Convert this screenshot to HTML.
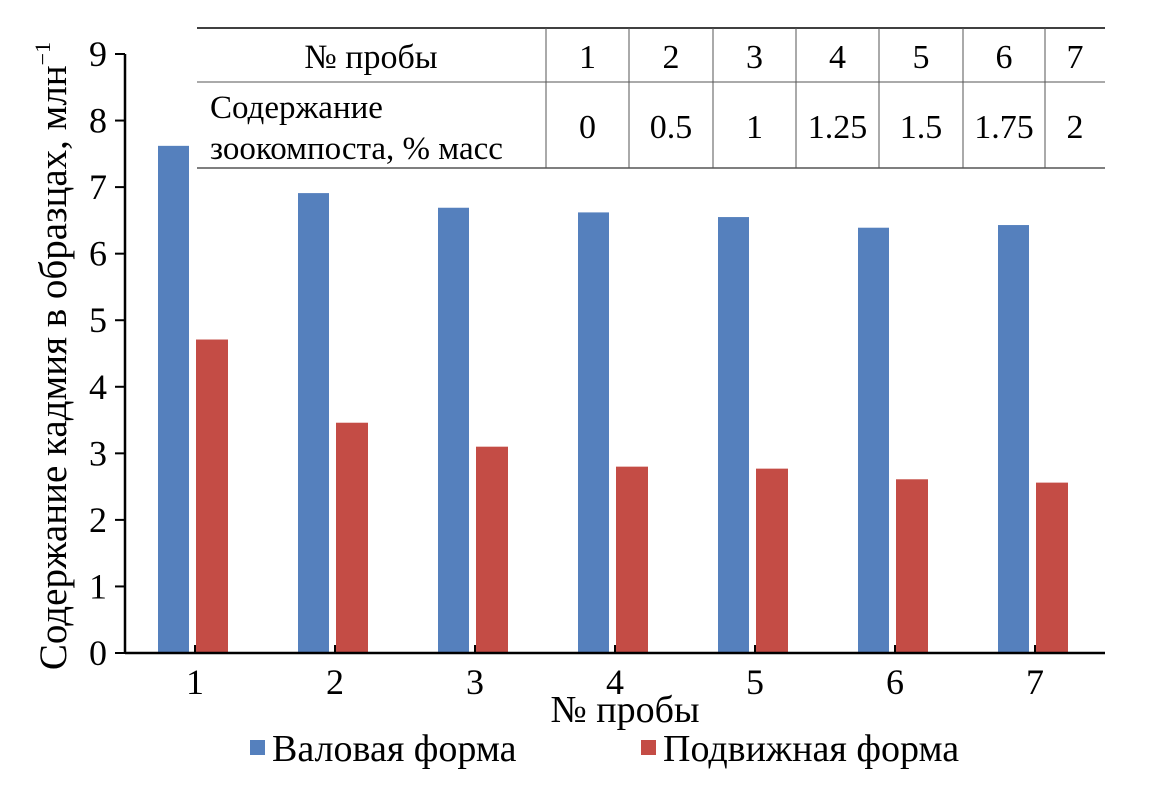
<!DOCTYPE html>
<html><head><meta charset="utf-8"><style>
body{margin:0;background:#fff;}
svg text{font-family:"Liberation Serif",serif;fill:#000;}
</style></head><body>
<svg width="1170" height="785" viewBox="0 0 1170 785" xmlns="http://www.w3.org/2000/svg">
<g id="table">
<line x1="197" y1="28" x2="1105" y2="28" stroke="#000" stroke-width="1.5"/>
<line x1="197" y1="82" x2="1105" y2="82" stroke="#555" stroke-width="1"/>
<line x1="197" y1="168" x2="1105" y2="168" stroke="#555" stroke-width="1.5"/>
</g>
<g id="bars"></g>
<g id="axes"></g>
<text x="0" y="0" font-size="39" text-anchor="middle" transform="translate(66,356) rotate(-90)">Содержание кадмия в образцах, млн<tspan dy="-16" font-size="22">−1</tspan></text>
<text x="625" y="722" font-size="38" text-anchor="middle">№ пробы</text>
<g>
<rect x="250" y="740" width="15" height="15" fill="#5580BD"/>
<text x="272" y="761" font-size="38">Валовая форма</text>
<rect x="641" y="740" width="15" height="15" fill="#C44C45"/>
<text x="663" y="761" font-size="38">Подвижная форма</text>
</g>
</svg>
<script>
const categories=["1","2","3","4","5","6","7"];
const totalForm=[7.62,6.91,6.69,6.62,6.55,6.39,6.43];
const mobileForm=[4.71,3.46,3.10,2.80,2.77,2.61,2.56];
const yTicks=[0,1,2,3,4,5,6,7,8,9];
const compost=["0","0.5","1","1.25","1.5","1.75","2"];
const NS="http://www.w3.org/2000/svg";
const x0=125,plotW=980,y0=653,yTop=54,yMax=9;
const band=plotW/categories.length;
const xc=i=>x0+band*(i+0.5);
const ys=v=>y0-(v/yMax)*(y0-yTop);
function mk(tag,attrs,parent,text){const e=document.createElementNS(NS,tag);for(const k in attrs)e.setAttribute(k,attrs[k]);if(text!==undefined)e.textContent=text;parent.appendChild(e);return e;}
const bars=document.getElementById('bars'),axes=document.getElementById('axes'),table=document.getElementById('table');
categories.forEach((c,i)=>{
 const b=mk('rect',{x:xc(i)-37,y:ys(totalForm[i]),width:31,height:y0-ys(totalForm[i]),fill:'#5580BD'},bars);
 
 
 const r=mk('rect',{x:xc(i)+1,y:ys(mobileForm[i]),width:32,height:y0-ys(mobileForm[i]),fill:'#C44C45'},bars);
 
 
 const t=mk('text',{x:xc(i),y:694,'font-size':36,'text-anchor':'middle'},axes,c);
 
 
 mk('line',{x1:xc(i),y1:y0,x2:xc(i),y2:y0-8,stroke:'#000','stroke-width':2},axes);
});
mk('line',{x1:x0,y1:y0,x2:x0+plotW,y2:y0,stroke:'#000','stroke-width':2.5},axes);
mk('line',{x1:x0,y1:y0,x2:x0,y2:yTop,stroke:'#000','stroke-width':2.5},axes);
yTicks.forEach(v=>{
 mk('line',{x1:x0-10,y1:ys(v),x2:x0,y2:ys(v),stroke:'#000','stroke-width':2},axes);
 const t=mk('text',{x:x0-18,y:ys(v)+12,'font-size':36,'text-anchor':'end'},axes,String(v));
 
 
});
const colX=[197,546,629,713,796,879,963,1045,1105];
for(let k=1;k<colX.length-1;k++) mk('line',{x1:colX[k],y1:28,x2:colX[k],y2:168,stroke:'#555','stroke-width':1},table);
mk('text',{x:371,y:68,'font-size':34,'text-anchor':'middle'},table,'№ пробы');
mk('text',{x:210,y:118,'font-size':33},table,'Содержание');
mk('text',{x:210,y:159,'font-size':33},table,'зоокомпоста, % масс');
categories.forEach((c,i)=>{
 const cx=(colX[i+1]+colX[i+2])/2;
 mk('text',{x:cx,y:68,'font-size':34,'text-anchor':'middle'},table,c);
 mk('text',{x:cx,y:138,'font-size':34,'text-anchor':'middle'},table,compost[i]);
});
</script>
</body></html>
